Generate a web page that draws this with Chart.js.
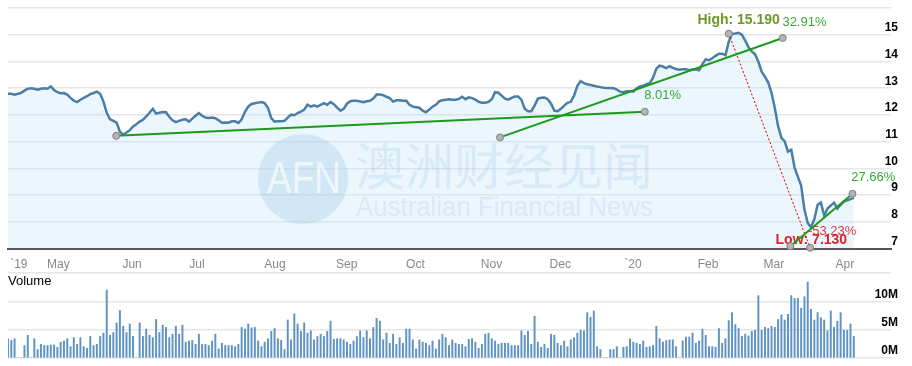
<!DOCTYPE html>
<html>
<head>
<meta charset="utf-8">
<script src="https://cdn.jsdelivr.net/npm/chart.js@4.4.1/dist/chart.umd.min.js"></script>
<style>
html, body { margin: 0; padding: 0; background: #fff; }
#wrap { position: relative; width: 912px; height: 366px; overflow: hidden; }
#price { position: absolute; left: 0; top: 0; }
#volume { position: absolute; left: 0; top: 268px; }
#vol-title { position: absolute; left: 8px; top: 273px; font: 13px "Liberation Sans", Arial, sans-serif; line-height: 15px; color: #000; }
</style>
</head>
<body>
<div id="wrap">
  <canvas id="price" width="912" height="273" style="width:912px;height:273px"></canvas>
  <canvas id="volume" width="912" height="98" style="width:912px;height:98px"></canvas>
  <div id="vol-title">Volume</div>
</div>
<script>
// Daily closes, one per trading day (Apr 2019 - Apr 2020)
const prices = [
  12.79, 12.79, 12.76, 12.79, 12.83, 12.91, 12.98, 13.00, 12.98, 12.94,
  12.98, 13.00, 12.98, 13.07, 12.93, 12.85, 12.81, 12.82, 12.76, 12.64,
  12.53, 12.48, 12.57, 12.64, 12.70, 12.78, 12.82, 12.87, 12.79, 12.50,
  12.08, 11.84, 11.78, 11.71, 11.37, 11.26, 11.34, 11.43, 11.57, 11.65,
  11.75, 11.82, 11.95, 12.08, 12.23, 12.05, 12.08, 12.11, 12.10, 11.93,
  11.80, 11.73, 11.78, 11.82, 11.84, 11.75, 11.86, 11.97, 12.07, 11.97,
  11.90, 11.89, 11.90, 11.88, 11.80, 11.71, 11.72, 11.71, 11.76, 11.76,
  11.70, 11.84, 12.12, 12.31, 12.41, 12.44, 12.46, 12.48, 12.44, 12.26,
  11.88, 11.75, 11.76, 11.76, 11.78, 11.90, 12.01, 11.99, 12.07, 12.12,
  12.20, 12.38, 12.31, 12.36, 12.31, 12.38, 12.44, 12.38, 12.48, 12.40,
  12.27, 12.16, 12.23, 12.42, 12.51, 12.53, 12.53, 12.50, 12.48, 12.51,
  12.53, 12.61, 12.76, 12.76, 12.74, 12.68, 12.63, 12.50, 12.55, 12.55,
  12.53, 12.53, 12.38, 12.31, 12.29, 12.27, 12.16, 12.10, 12.20, 12.31,
  12.38, 12.51, 12.55, 12.57, 12.59, 12.57, 12.57, 12.60, 12.68, 12.59,
  12.66, 12.63, 12.57, 12.49, 12.46, 12.46, 12.49, 12.59, 12.85, 12.83,
  12.72, 12.61, 12.57, 12.64, 12.69, 12.69, 12.57, 12.23, 12.14, 12.14,
  12.35, 12.61, 12.64, 12.65, 12.59, 12.42, 12.16, 12.14, 12.23, 12.35,
  12.45, 12.49, 12.72, 13.09, 13.26, 13.19, 13.15, 13.12, 13.09, 13.06,
  13.04, 13.02, 13.01, 13.01, 13.00, 12.95, 12.87, 12.85, 12.89, 12.89,
  12.87, 12.99, 13.07, 13.09, 13.15, 13.19, 13.39, 13.73, 13.84, 13.81,
  13.75, 13.82, 13.76, 13.72, 13.69, 13.71, 13.71, 13.67, 13.70, 13.71,
  13.67, 13.90, 14.08, 14.05, 14.12, 14.21, 14.29, 14.29, 14.23, 14.74,
  15.04, 15.05, 15.07, 15.00, 14.78, 14.53, 14.38, 14.27, 13.99, 13.62,
  13.43, 13.21, 12.83, 12.26, 11.58, 11.14, 11.01, 10.63, 10.70, 10.03,
  9.69, 9.36, 8.46, 7.96, 7.80, 8.10, 8.64, 8.72, 8.23, 8.50,
  8.61, 8.72, 8.50, 8.64, 8.76, 8.81, 8.85, 8.91
];

// Daily volume, millions of shares (0 = no bar)
const volumes = [
  3.4, 3.1, 3.4, 0, 0, 2.2, 4.0, 0, 3.4, 1.5,
  2.4, 2.2, 2.2, 2.3, 2.3, 1.9, 2.8, 3.0, 3.4, 2.0,
  3.6, 2.4, 3.6, 2.0, 1.7, 3.8, 2.2, 2.4, 3.8, 4.4,
  12.0, 4.0, 4.5, 6.2, 8.4, 5.6, 4.5, 6.0, 3.8, 0,
  6.2, 3.8, 5.1, 4.0, 3.6, 6.8, 4.5, 5.8, 5.4, 3.6,
  4.2, 5.6, 4.2, 5.8, 2.8, 3.0, 3.1, 2.4, 4.2, 2.4,
  2.4, 2.2, 3.0, 4.2, 1.6, 2.6, 2.2, 2.2, 2.2, 2.0,
  2.4, 5.4, 5.1, 6.0, 5.3, 5.4, 3.0, 2.0, 2.8, 3.4,
  4.7, 5.2, 3.4, 3.1, 1.5, 6.7, 3.2, 7.8, 6.0, 4.7,
  6.2, 4.4, 4.8, 3.2, 3.8, 4.2, 3.8, 4.7, 6.5, 3.3,
  3.4, 3.4, 3.2, 2.8, 2.4, 3.0, 3.8, 4.8, 3.6, 4.8,
  3.4, 5.4, 7.0, 6.5, 3.2, 4.4, 2.6, 4.2, 2.4, 3.6,
  2.6, 5.1, 5.1, 3.2, 1.6, 3.2, 2.8, 2.6, 2.2, 3.0,
  1.6, 3.2, 4.2, 3.6, 2.2, 3.2, 2.6, 2.4, 2.4, 2.0,
  3.3, 3.4, 2.8, 1.7, 2.4, 4.2, 4.4, 3.4, 3.0, 2.4,
  2.6, 2.6, 2.6, 2.2, 2.2, 2.2, 4.8, 4.0, 4.7, 2.4,
  7.4, 2.8, 1.9, 2.4, 1.7, 4.2, 4.0, 2.6, 2.2, 3.0,
  2.0, 3.2, 3.6, 4.4, 4.9, 4.8, 8.0, 7.2, 8.3, 2.0,
  1.5, 0, 0, 1.5, 1.5, 2.0, 0, 1.9, 2.0, 3.4,
  2.8, 2.6, 2.4, 3.0, 1.9, 2.0, 2.2, 5.6, 3.4, 2.8,
  3.1, 3.2, 3.2, 2.0, 0, 3.0, 3.7, 3.7, 4.4, 2.6,
  3.0, 5.1, 4.0, 2.0, 2.0, 1.9, 5.2, 2.6, 3.4, 6.6,
  8.0, 5.9, 5.2, 3.8, 4.2, 3.9, 4.7, 4.9, 11.0, 4.9,
  5.4, 5.2, 5.6, 5.4, 6.8, 7.6, 6.7, 7.7, 11.0, 10.5,
  10.5, 8.8, 10.8, 13.4, 8.6, 6.7, 8.0, 7.1, 6.7, 4.8,
  8.3, 5.4, 6.5, 8.0, 4.9, 4.9, 6.0, 3.8
];

// Month tick labels and the trading-day index they sit on
const monthNames = ['`19', 'May', 'Jun', 'Jul', 'Aug', 'Sep', 'Oct', 'Nov', 'Dec', '`20', 'Feb', 'Mar', 'Apr'];
const monthIdx = [3.3, 15.3, 37.7, 57.4, 81.1, 102.9, 123.8, 146.9, 167.8, 189.9, 212.7, 232.7, 254.3];

// Drawn trend lines: [day index, price] at each end
const trendJun = [[32.9, 11.22], [193.5, 12.12]];
const trendNov = [[149.5, 11.16], [235.4, 14.88]];
const trendMar = [[237.7, 7.09], [256.6, 9.05]];
const highLow = [[219.0, 15.04], [243.7, 7.03]];

const xMax = 268.3;
const FONT = '"Liberation Sans", Arial, sans-serif';
Chart.defaults.font.family = FONT;

// text notes anchored in data units
const notes = [
  { text: 'High: 15.190', at: [222.0, 15.56], color: '#6c9a26', font: 'bold 14px ' + FONT },
  { text: '32.91%', at: [242.0, 15.47], color: '#37a836', font: '13px ' + FONT },
  { text: '8.01%', at: [198.9, 12.72], color: '#37a836', font: '13px ' + FONT },
  { text: '27.66%', at: [262.9, 9.65], color: '#37a836', font: '13px ' + FONT },
  { text: '-53.23%', at: [250.4, 7.64], color: '#e0383a', font: '13px ' + FONT },
  { text: 'Low: 7.130', at: [244.1, 7.30], color: '#dd2327', font: 'bold 14px ' + FONT }
];

function drawWatermark(ctx) {
  ctx.save();
  ctx.fillStyle = 'rgba(150,195,230,0.30)';
  ctx.beginPath();
  ctx.arc(303, 179, 45, 0, Math.PI * 2);
  ctx.fill();
  ctx.fillStyle = 'rgba(255,255,255,0.65)';
  ctx.font = '44px ' + FONT;
  ctx.textAlign = 'center';
  ctx.textBaseline = 'middle';
  ctx.fillText('AFN', 304, 181, 74);
  ctx.fillStyle = 'rgba(150,195,230,0.25)';
  ctx.textAlign = 'left';
  ctx.font = '50px "Noto Sans CJK SC", sans-serif';
  ctx.fillText('澳洲财经见闻', 355, 166, 298);
  ctx.font = '27px ' + FONT;
  ctx.fillText('Australian Financial News', 356, 209, 297);
  ctx.restore();
}

const notesPlugin = {
  id: 'notes',
  afterDatasetDraw(chart, args) {
    if (args.index !== 0) return;
    const { ctx, scales: { x, y } } = chart;
    drawWatermark(ctx);
    ctx.save();
    ctx.textAlign = 'center';
    ctx.textBaseline = 'middle';
    notes.forEach(n => {
      ctx.font = n.font;
      ctx.fillStyle = n.color;
      ctx.fillText(n.text, x.getPixelForValue(n.at[0]), y.getPixelForValue(n.at[1]));
    });
    ctx.restore();
  }
};

const zeroPad = s => { s.paddingTop = 0; s.paddingBottom = 0; s.paddingLeft = 0; s.paddingRight = 0; };
const toXY = pts => pts.map(p => ({ x: p[0], y: p[1] }));

function trendSet(pts) {
  return {
    data: toXY(pts),
    borderColor: '#1b9b1b',
    borderWidth: 2,
    pointRadius: 3.5,
    pointBackgroundColor: '#b4b4b4',
    pointBorderColor: '#808080',
    pointBorderWidth: 1,
    clip: false,
    order: 0
  };
}

new Chart(document.getElementById('price'), {
  type: 'line',
  data: {
    datasets: [
      {
        data: prices.map((p, i) => ({ x: i, y: p })),
        borderColor: '#4a7ea8',
        borderWidth: 2.5,
        backgroundColor: 'rgba(190,225,250,0.30)',
        fill: 'start',
        pointRadius: 0,
        tension: 0,
        order: 10
      },
      trendSet(trendJun),
      trendSet(trendNov),
      trendSet(trendMar),
      Object.assign(trendSet(highLow), { borderColor: '#d40000', borderWidth: 1, borderDash: [2, 2] })
    ]
  },
  options: {
    responsive: false,
    animation: false,
    events: [],
    layout: { padding: { left: 8, right: 7, top: 8, bottom: 0 } },
    plugins: { legend: { display: false }, tooltip: { enabled: false } },
    scales: {
      x: {
        type: 'linear', min: 0, max: xMax, bounds: 'data',
        grid: { display: false },
        border: { color: '#555', width: 2 },
        afterBuildTicks: s => { s.ticks = monthIdx.map(v => ({ value: v })); },
        afterFit: zeroPad,
        ticks: {
          callback: (v, i) => monthNames[i],
          color: '#888', font: { size: 12 }, padding: 1, maxRotation: 0, autoSkip: false
        }
      },
      y: {
        position: 'right', min: 7, max: 16,
        afterFit: zeroPad,
        grid: { color: '#e6e6e6', lineWidth: 1.5, drawTicks: false },
        border: { display: false },
        ticks: {
          stepSize: 1, mirror: true, padding: 7, labelOffset: -7,
          color: '#000', font: { size: 12, weight: 'bold' },
          callback: v => (v >= 16 ? '' : v)
        }
      }
    }
  },
  plugins: [notesPlugin]
});

new Chart(document.getElementById('volume'), {
  type: 'bar',
  data: {
    datasets: [{
      data: volumes.map((v, i) => ({ x: i, y: v })),
      backgroundColor: '#5f93c4',
      barThickness: 1.3
    }]
  },
  options: {
    responsive: false,
    animation: false,
    events: [],
    layout: { padding: { left: 8, right: 7, top: 5, bottom: 8 } },
    plugins: { legend: { display: false }, tooltip: { enabled: false } },
    scales: {
      x: { type: 'linear', min: 0, max: xMax, bounds: 'data', offset: false, display: false },
      y: {
        position: 'right', min: 0, max: 15,
        afterFit: zeroPad,
        grid: { color: '#e6e6e6', lineWidth: 1.5, drawTicks: false },
        border: { display: false },
        ticks: {
          stepSize: 5, mirror: true, padding: 7, labelOffset: -7, includeBounds: false,
          color: '#000', font: { size: 12, weight: 'bold' },
          callback: v => (v >= 15 ? '' : v + 'M')
        }
      }
    }
  }
});
</script>
</body>
</html>
